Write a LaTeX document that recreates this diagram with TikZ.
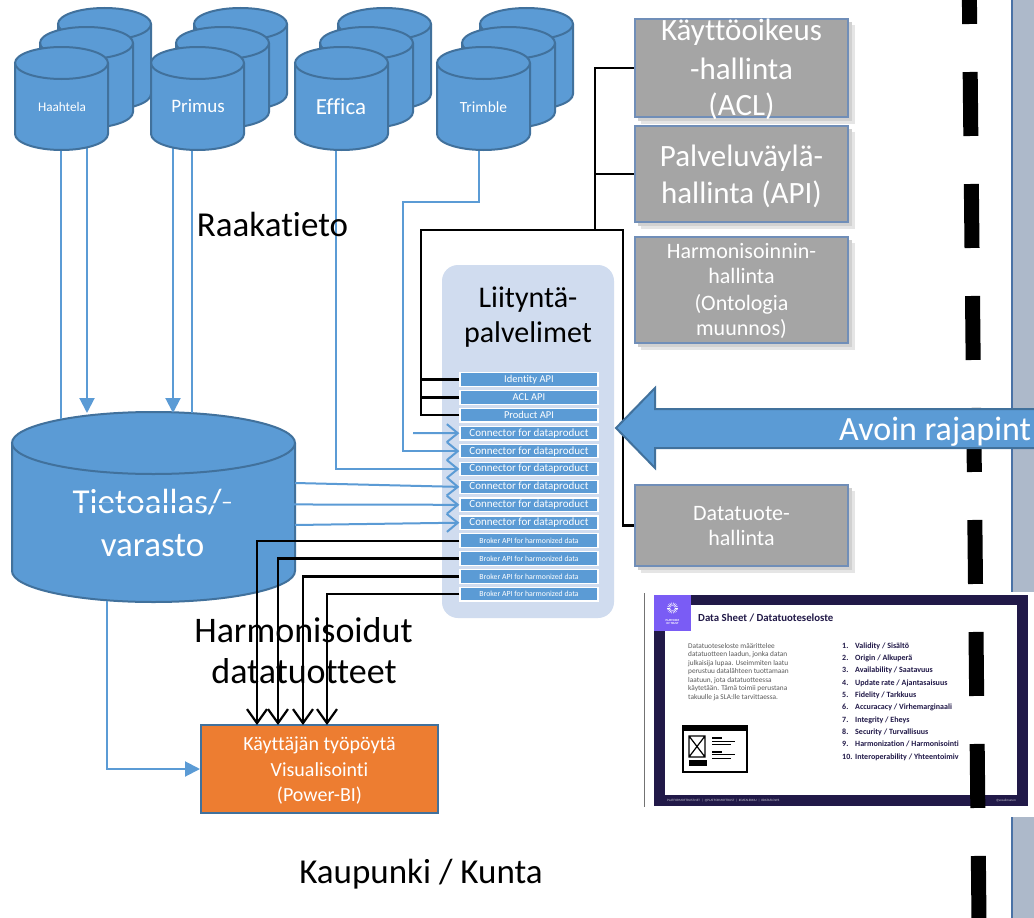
\documentclass[tikz,border=0pt]{standalone}
\usepackage{fontspec}
\setmainfont{Carlito}[Ligatures={NoCommon}]
\usetikzlibrary{arrows.meta}
\definecolor{cblue}{RGB}{91,155,213}
\definecolor{cdark}{RGB}{65,113,156}
\definecolor{contbg}{RGB}{208,220,239}
\definecolor{gbox}{RGB}{165,165,165}
\definecolor{gborder}{RGB}{112,142,184}
\definecolor{orng}{RGB}{237,125,49}
\definecolor{panel}{RGB}{173,185,202}
\definecolor{panelb}{RGB}{74,114,166}
\definecolor{navy}{RGB}{33,25,72}
\definecolor{purp}{RGB}{122,92,245}
\newcommand{\fsz}[2]{\fontsize{#1pt}{#2pt}\selectfont}
\newcommand{\dbcyl}[5]{%
  \pgfmathsetmacro{\cylcx}{((#1)+(#2))/2}%
  \pgfmathsetmacro{\cylrx}{((#2)-(#1))/2}%
  \fill[cblue] (#1,#3) -- (#1,#4) arc[start angle=180,end angle=0,x radius=\cylrx,y radius=#5] -- (#2,#3) arc[start angle=0,end angle=-180,x radius=\cylrx,y radius=#5] -- cycle;
  \draw[cylline] (#1,#3) -- (#1,#4) arc[start angle=180,end angle=0,x radius=\cylrx,y radius=#5] -- (#2,#3);
  \draw[cylline] (\cylcx,#3) ellipse[x radius=\cylrx,y radius=#5];
}
\newcommand{\dbstack}[1]{%
  \dbcyl{#1+43}{#1+136}{24}{94}{16}%
  \dbcyl{#1+25}{#1+118}{43}{112}{16}%
  \dbcyl{#1}{#1+93}{63}{134}{16}%
}
\begin{document}
\begin{tikzpicture}[x=1pt,y=1pt,yscale=-1,line join=miter,
  cylline/.style={draw=cdark,line width=2pt},
  bl/.style={draw=cblue,line width=2pt},
  blarr/.style={bl,-{Triangle[length=15pt,width=15pt]}},
  blopen/.style={bl,-{Straight Barb[length=11pt,width=18pt]}},
  bk/.style={draw=black,line width=2.2pt},
  bkopen/.style={bk,-{Straight Barb[length=14pt,width=20pt]}},
  apibox/.style={fill=cblue,draw=white,line width=1.2pt,minimum width=138pt,minimum height=13.5pt,inner sep=0pt,text=white},
  gbx/.style={fill=gbox,draw=gborder,line width=2pt,minimum width=213pt,inner sep=0pt},
  shad/.style={fill=black!18},
  wt/.style={text=white,inner sep=0pt,anchor=base},
  bt/.style={text=black,inner sep=0pt,anchor=base},
]
\useasboundingbox (0,0) rectangle (1034,918);
\fill[white] (0,0) rectangle (1034,918);
% right panel
\fill[panel] (1012,-2) rectangle (1036,920);
\draw[panelb,line width=2pt] (1012,-2) -- (1012,920);
% container
\fill[contbg,rounded corners=16pt] (442,265) rectangle (614,618);
\node[bt,font=\fsz{30}{30}] (liit1) at (528,307) {Liityntä-};
\node[bt,font=\fsz{30}{30}] (liit2) at (528,342) {palvelimet};
% Tietoallas
\dbcyl{12}{295}{443}{571}{31}
\node[wt,font=\fsz{35}{35}] (tiet1) at (152.5,513) {Tietoallas/-};
\node[wt,font=\fsz{35}{35}] (tiet2) at (152.5,556) {varasto};
% coordinates for sources
\coordinate (hB1) at (61,140); \coordinate (hE1) at (61,419);
\coordinate (hB2) at (87,140); \coordinate (hE2) at (87,413);
\coordinate (pB1) at (173,140); \coordinate (pE1) at (173,413);
\coordinate (pB2) at (192,140); \coordinate (pE2) at (192,413);
\coordinate (efB) at (336,140);
\coordinate (trB) at (479,140); \coordinate (trK) at (403,202);
\coordinate (c1s) at (413,433);
\coordinate (t4) at (295,483); \coordinate (t5) at (75,504); \coordinate (t6) at (295,525);
\coordinate (tb) at (107,601);
% API boxes
\node[apibox,font=\fsz{10.5}{10.5}] (id) at (529,379.5) {Identity API};
\node[apibox,font=\fsz{10.5}{10.5}] (acl) at (529,397.4) {ACL API};
\node[apibox,font=\fsz{10.5}{10.5}] (prod) at (529,415.3) {Product API};
\node[apibox,font=\fsz{11}{11}] (c1) at (529,433.2) {Connector for dataproduct};
\node[apibox,font=\fsz{11}{11}] (c2) at (529,451.1) {Connector for dataproduct};
\node[apibox,font=\fsz{11}{11}] (c3) at (529,469) {Connector for dataproduct};
\node[apibox,font=\fsz{11}{11}] (c4) at (529,486.9) {Connector for dataproduct};
\node[apibox,font=\fsz{11}{11}] (c5) at (529,504.8) {Connector for dataproduct};
\node[apibox,font=\fsz{11}{11}] (c6) at (529,522.7) {Connector for dataproduct};
\node[apibox,font=\fsz{7.8}{7.8}] (b1) at (529,540.6) {Broker API for harmonized data};
\node[apibox,font=\fsz{7.8}{7.8}] (b2) at (529,558.5) {Broker API for harmonized data};
\node[apibox,font=\fsz{7.8}{7.8}] (b3) at (529,576.4) {Broker API for harmonized data};
\node[apibox,font=\fsz{7.8}{7.8}] (b4) at (529,594.3) {Broker API for harmonized data};
% blue lines from sources
\draw[bl] (hB1) -- (hE1);
\draw[blarr] (hB2) -- (hE2);
\draw[blarr] (pB1) -- (pE1);
\draw[bl] (pB2) -- (pE2);
\draw[blopen] (efB) |- (c3.west);
\draw[blopen] (trB) |- (trK) |- (c2.west);
\draw[blopen] (c1s) -- (c1.west);
\draw[blopen] (t4) -- (c4.west);
\draw[blopen] (t5) -- (c5.west);
\draw[blopen] (t6) -- (c6.west);
% source stacks
\dbstack{15}
\dbstack{151}
\dbstack{295}
\dbstack{437}
\node[wt,font=\fsz{13.2}{13.2}] (haah) at (62,111) {Haahtela};
\node[wt,font=\fsz{19}{19}] (prim) at (198,112) {Primus};
\node[wt,font=\fsz{23}{23}] (effi) at (341,114) {Effica};
\node[wt,font=\fsz{15.5}{15.5}] (trim) at (483.5,112) {Trimble};
% texts
\node[bt,font=\fsz{35}{35}] (raaka) at (272.5,236) {Raakatieto};
\node[bt,font=\fsz{36}{36}] (harm1) at (303.5,642) {Harmonisoidut};
\node[bt,font=\fsz{36}{36}] (harm2) at (304,683) {datatuotteet};
\node[bt,font=\fsz{35}{35}] (kaup) at (421,883) {Kaupunki / Kunta};
% Power-BI
\node[fill=orng,draw=cdark,line width=2pt,minimum width=237pt,minimum height=88pt,inner sep=0pt] (pbi) at (319.5,769) {};
\node[wt,font=\fsz{20}{20}] (pbi1) at (319.5,750) {Käyttäjän työpöytä};
\node[wt,font=\fsz{20}{20}] (pbi2) at (319.5,776) {Visualisointi};
\node[wt,font=\fsz{20}{20}] (pbi3) at (319.5,801) {(Power-BI)};
\draw[blarr] (tb) |- (pbi.west);
% broker lines
\coordinate (p1) at (257,725); \coordinate (p2) at (278,725);
\coordinate (p3) at (303,725); \coordinate (p4) at (327,725);
\draw[bkopen] (b1.west) -| (p1);
\draw[bkopen] (b2.west) -| (p2);
\draw[bkopen] (b3.west) -| (p3);
\draw[bkopen] (b4.west) -| (p4);
% gray boxes
\fill[black!10] (641,25) rectangle (855,124);
\fill[black!10] (641,132) rectangle (855,229);
\fill[black!10] (641,243) rectangle (855,350);
\fill[black!10] (641,491) rectangle (855,573);
\fill[shad] (638,22) rectangle (852,121);
\fill[shad] (638,129) rectangle (852,226);
\fill[shad] (638,240) rectangle (852,347);
\fill[shad] (638,488) rectangle (852,570);
\node[gbx,minimum height=98pt] (ka) at (741.5,68) {};
\node[gbx,minimum height=96pt] (pv) at (741.5,174) {};
\node[gbx,minimum height=106pt] (hm) at (741.5,290) {};
\node[gbx,minimum height=81pt] (dt) at (741.5,525.5) {};
\node[wt,font=\fsz{31}{31}] (ka1) at (741.5,40) {Käyttöoikeus};
\node[wt,font=\fsz{31}{31}] (ka2) at (741.5,79) {-hallinta};
\node[wt,font=\fsz{31}{31}] (ka3) at (741.5,115) {(ACL)};
\node[wt,font=\fsz{31}{31}] (pv1) at (741.5,166) {Palveluväylä-};
\node[wt,font=\fsz{31}{31}] (pv2) at (741.5,203) {hallinta (API)};
\node[wt,font=\fsz{22}{22}] (hm1) at (741.5,258) {Harmonisoinnin-};
\node[wt,font=\fsz{22}{22}] (hm2) at (741.5,283) {hallinta};
\node[wt,font=\fsz{22}{22}] (hm3) at (741.5,310) {(Ontologia};
\node[wt,font=\fsz{22}{22}] (hm4) at (741.5,335) {muunnos)};
\node[wt,font=\fsz{22}{22}] (dt1) at (741.5,520) {Datatuote-};
\node[wt,font=\fsz{22}{22}] (dt2) at (741.5,545) {hallinta};
% black management lines
\coordinate (j1) at (421,230); \coordinate (j2) at (595,230); \coordinate (j3) at (623,230);
\draw[bk] (prod.west) -| (j1) -- (j3) |- (dt.west);
\draw[bk] (id.west) -- (id.west -| j1);
\draw[bk] (acl.west) -- (acl.west -| j1);
\draw[bk] (ka.west) -| (j2);
\draw[bk] (pv.west) -- (pv.west -| j2);
% data sheet picture
\fill[white] (644,592) rectangle (1036,817);
\draw[black!55,line width=1pt] (644,593) -- (644,807);
\fill[navy] (654,595) rectangle (1028,806);
\fill[white] (665,605) rectangle (1017,795);
\fill[purp] (654,595) rectangle (691,631);
\foreach \a in {0,20,...,340} \draw[white,line width=0.5pt] (672.5,608)+(\a:2.2) -- +(\a:5.5);
\node[text=white,inner sep=0pt,align=center,font=\bfseries\fsz{3}{3.6}] (logo) at (672.5,622) {PLATFORM\\OF TRUST};
\node[anchor=base west,inner sep=0pt,text=navy,font=\bfseries\fsz{10.8}{10.8}] (dstitle) at (698,621) {Data Sheet / Datatuoteseloste};
\node[anchor=north west,inner sep=0pt,align=left,text=black!65,font=\fsz{7.3}{8.5}] (dspara) at (688,643) {Datatuoteseloste määrittelee\\datatuotteen laadun, jonka datan\\julkaisija lupaa. Useimmiten laatu\\perustuu datalähteen tuottamaan\\laatuun, jota datatuotteessa\\käytetään. Tämä toimii perustana\\takuulle ja SLA:lle tarvittaessa.};
\node[anchor=north west,inner sep=0pt,align=left,text=navy,font=\bfseries\fsz{8}{12.3}] (dslist) at (842,642.5) {%
\makebox[13pt][l]{1.}Validity / Sisältö\\
\makebox[13pt][l]{2.}Origin / Alkuperä\\
\makebox[13pt][l]{3.}Availability / Saatavuus\\
\makebox[13pt][l]{4.}Update rate / Ajantasaisuus\\
\makebox[13pt][l]{5.}Fidelity / Tarkkuus\\
\makebox[13pt][l]{6.}Accuracacy / Virhemarginaali\\
\makebox[13pt][l]{7.}Integrity / Eheys\\
\makebox[13pt][l]{8.}Security / Turvallisuus\\
\makebox[13pt][l]{9.}Harmonization / Harmonisointi\\
\makebox[13pt][l]{10.}Interoperability / Yhteentoimiv};
% wireframe icon
\draw[black,line width=1.4pt] (683,726) rectangle (747,772);
\fill[black] (683,725) rectangle (747,731);
\draw[black,line width=1.2pt] (689,736) rectangle (705,757) (689,736) -- (705,757) (705,736) -- (689,757);
\fill[black] (689,760) rectangle (707,766);
\fill[black] (712,736.5) rectangle (722,739);
\draw[black,line width=0.9pt] (712,741) -- (735,741) (712,744.5) -- (731,744.5) (712,754.5) -- (735,754.5) (712,758) -- (731,758);
\fill[black] (712,750.5) rectangle (722,753);
\node[anchor=west,inner sep=0pt,text=white!75!navy,font=\fsz{3.3}{3.3}] (foot) at (667,800.5) {PLATFORMOFTRUST.NET \ | \ @PLATFORMOFTRUST \ | \ \#DATALEKKIU \ | \ \#DATAFLOWS};
\node[anchor=east,inner sep=0pt,text=white!75!navy,font=\fsz{3.3}{3.3}] (foot2) at (1016,800.5) {@vesalimanen};
% dashed boundary
\draw[black,line width=15pt,dash pattern=on 64pt off 48pt] (969,-40) -- (979,920);
% big arrow
\filldraw[fill=cblue,draw=cdark,line width=2pt] (616,428) -- (655,388) -- (655,409) -- (1040,409) -- (1040,448) -- (655,448) -- (655,468) -- cycle;
\node[anchor=base west,inner sep=0pt,text=white,font=\fsz{34}{34}] (avoin) at (839,440) {Avoin rajapint};
\end{tikzpicture}
\end{document}
